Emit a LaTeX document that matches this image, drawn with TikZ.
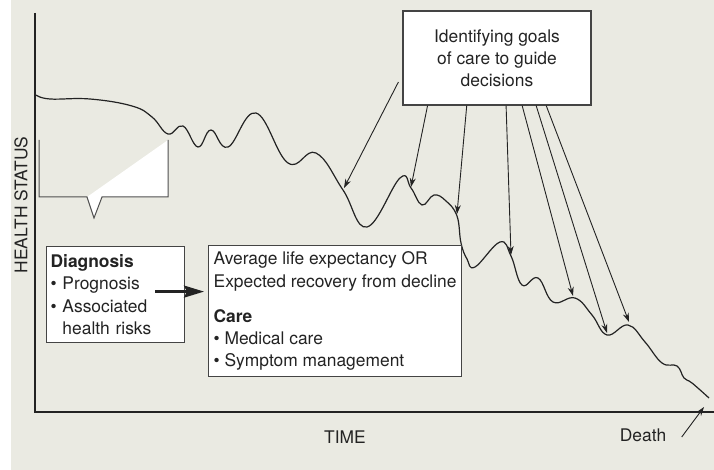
\documentclass[tikz,border=0pt]{standalone}
\usepackage{fontspec}
\setmainfont{TeX Gyre Heros}
\usetikzlibrary{calc,arrows.meta}
\definecolor{paper}{RGB}{234,234,226}
\definecolor{ink}{RGB}{35,35,35}
\tikzset{
  box/.style={draw=ink!85,line width=1.2pt,fill=white,text=ink,inner sep=4pt},
  thinarrow/.style={draw=ink,line width=0.9pt,-{Stealth[length=9pt,width=6pt]}},
}

\begin{document}
\begin{tikzpicture}[x=1pt,y=-1pt,font=\fontsize{17.4}{22.2}\selectfont]
\useasboundingbox (0,0) rectangle (714,470);
\fill[paper](11,0)rectangle(714,470);
% axes and labels
\draw[ink,line width=2.6pt](35,13)--(35,412)--(714,412);
\node[text=ink,rotate=90](hs)at(21,205){HEALTH STATUS};
\node[text=ink](time)at(345,437){TIME};
\node[text=ink](death)at(643,435){Death};
% bracket under the curve
\fill[white](87,197)--(94,218)--(102,197)--(168,197)--(168,140)--cycle;
\draw[ink!80,line width=1pt](39,140)--(39,197)--(87,197)--(94,218)--(102,197)--(168,197)--(168,140);
% health status over time
\draw[ink,line width=1.2pt] plot[smooth,tension=0.7] coordinates{
  (36,95) (50,99) (90,99) (132,106) (152,117) (168,134) (183,126) (198,147)
  (211,130) (228,147) (256,113) (288,163) (316,153) (343,190) (367,227)
  (400,178) (411,188) (422,205) (434,195) (446,201) (457,216) (461,243) (467,259) (475,267)
  (500,242) (511,256) (522,285) (538,278) (553,302) (575,298) (592,315)
  (607,335) (628,325) (645,342) (662,363) (677,366) (684,378) (692,383) (709,398)};
\coordinate (c1) at (344,188);
\coordinate (c2) at (411,187);
\coordinate (c3) at (457,214);
\coordinate (c4) at (511,255);
\coordinate (c5) at (573,296);
\coordinate (c6) at (607,333);
\coordinate (c7) at (629,322);
\coordinate (dend) at (704,407);
% boxes
\node[box,minimum width=188,minimum height=94,align=center](goals)at(497,58)
  {Identifying goals\\of care to guide\\decisions};
\node[box,anchor=north west,minimum height=96,text width=130,align=left](diag)at(46,246)
  {\textbf{Diagnosis}\\\textbullet\ Prognosis\\\textbullet\ Associated\\\phantom{\textbullet\ }health risks};
\node[box,anchor=north west,minimum width=253,minimum height=131,align=left](care)at(208,245)
  {Average life expectancy OR\\Expected recovery from decline\\[13pt]\textbf{Care}\\\textbullet\ Medical care\\\textbullet\ Symptom management};
% arrows
\draw[thinarrow]($(goals.west)+(-4,24)$)--(c1);
\foreach \f/\c in {0.133/c2,0.34/c3,0.548/c4,0.633/c5,0.707/c6,0.76/c7}
  \draw[thinarrow]($(goals.south west)!\f!(goals.south east)$)--(\c);
\draw[thinarrow]($(death.east)+(12,2)$)--(dend);
\draw[ink,line width=2.4pt,-{Stealth[length=20pt,width=12pt,inset=3pt]}]
  ($(diag.east)+(-30,-3)$)--($(care.west|-diag.east)+(-4,-3)$);
\end{tikzpicture}
\end{document}
